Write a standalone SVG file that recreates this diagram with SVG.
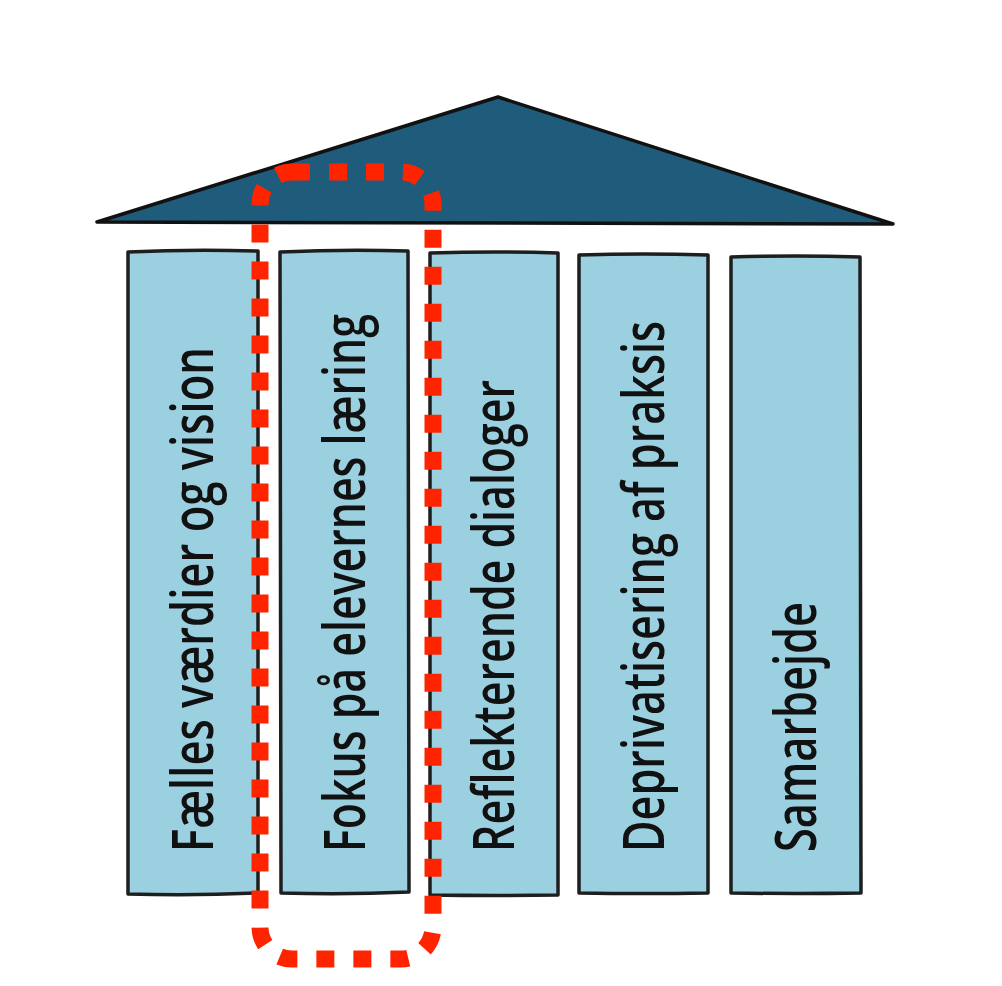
<svg xmlns="http://www.w3.org/2000/svg" width="1002" height="986" viewBox="0 0 1002 986">
<style>
.pillar{fill:#9bd0e0;stroke:#1e1e1e;stroke-width:3.5;stroke-linejoin:round}
.label{font-family:"Open Sans","Liberation Sans",sans-serif;font-size:58px;font-weight:600;fill:#111}
</style>
<rect width="1002" height="986" fill="#ffffff"/>
<g id="roof">
<polygon points="498,97 97,222 893,224" fill="#1f5b7a" stroke="#111" stroke-width="3.5" stroke-linejoin="round"/>
</g>
<g id="pillar1">
<path class="pillar" d="M128,252 Q190,249 258,251 L258,893 Q190,896 128,894 Z"/>
<text class="label" transform="translate(213,852) rotate(-90)" textLength="505" lengthAdjust="spacingAndGlyphs">Fælles værdier og vision</text>
</g>
<g id="pillar2">
<path class="pillar" d="M280,252 Q345,249 408,251 L409,892 Q345,895 281,893 Z"/>
<text class="label" transform="translate(365,852) rotate(-90)" textLength="538" lengthAdjust="spacingAndGlyphs">Fokus på elevernes læring</text>
</g>
<g id="pillar3">
<path class="pillar" d="M430,253 Q495,251 558,253 L558,895 Q495,896 430,895 Z"/>
<text class="label" transform="translate(514,852) rotate(-90)" textLength="472" lengthAdjust="spacingAndGlyphs">Reflekterende dialoger</text>
</g>
<g id="pillar4">
<path class="pillar" d="M579,255 Q643,253 708,255 L708,893 Q643,894 579,893 Z"/>
<text class="label" transform="translate(664,852) rotate(-90)" textLength="531" lengthAdjust="spacingAndGlyphs">Deprivatisering af praksis</text>
</g>
<g id="pillar5">
<path class="pillar" d="M731,257 Q796,255 860,257 L861,893 Q796,894 731,893 Z"/>
<text class="label" transform="translate(816,852) rotate(-90)" textLength="250" lengthAdjust="spacingAndGlyphs">Samarbejde</text>
</g>
<g id="highlight">
<rect x="260" y="172" width="173" height="787" rx="32" ry="32" fill="none" stroke="#ff2400" stroke-width="17" stroke-dasharray="18 19"/>
</g>
</svg>
